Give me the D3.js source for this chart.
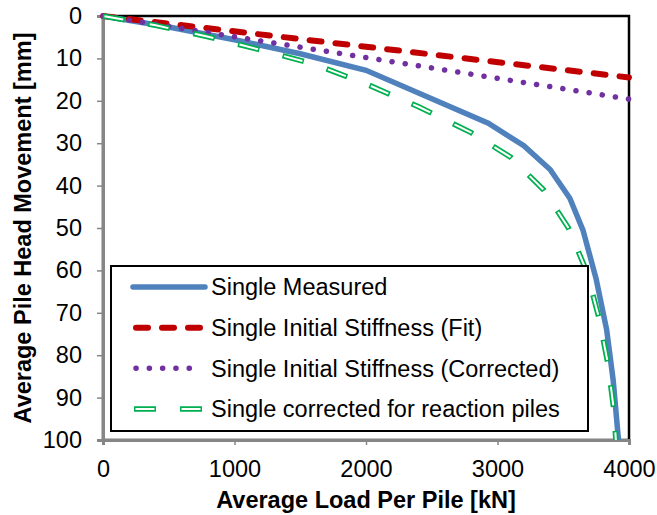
<!DOCTYPE html>
<html>
<head>
<meta charset="utf-8">
<script src="https://cdn.jsdelivr.net/npm/d3@7"></script>
<style>
  body { margin: 0; background: #fff; }
  text { font-family: "Liberation Sans", Arial, sans-serif; fill: #000; }
</style>
</head>
<body>
<div id="container"></div>
<script>
const width = 657,
    height = 515,
    margin = { top: 16, bottom: 75, left: 103, right: 28 },
    fontSize = 23.5;

// DATA (load kN, movement mm)
const measuredLoad = [0, 500, 1000, 1500, 2000, 2930, 3200, 3400, 3550, 3650, 3750, 3830, 3880, 3920];
const measuredMove = [0, 2.6, 5.6, 8.9, 12.8, 25.3, 30.6, 36.2, 43.0, 50.5, 62.0, 74.0, 86.0, 100];

const fitLoad = [0, 4000];
const fitMove = [0, 14.5];

const correctedLoad = [0, 4000];
const correctedMove = [0, 19.6];

const reactionLoad = [0, 400, 800, 1200, 1600, 2000, 2400, 2800, 3100, 3350, 3540, 3680, 3770, 3840, 3885, 3900];
const reactionMove = [0, 2.2, 4.9, 8.0, 11.3, 16.0, 21.4, 27.5, 33.3, 41.0, 50.0, 60.4, 71.0, 82.0, 93.0, 100];

const xTicks = [0, 1000, 2000, 3000, 4000];
const yTicks = [0, 10, 20, 30, 40, 50, 60, 70, 80, 90, 100];

const legendNames = [
    "Single Measured",
    "Single Initial Stiffness (Fit)",
    "Single Initial Stiffness (Corrected)",
    "Single corrected for reaction piles"
];

const zip = (a, b) => a.map((v, i) => [v, b[i]]);

/**SCALES*/
const xScale = d3.scaleLinear()
    .domain([0, 4000])
    .range([margin.left, width - margin.right])

const yScale = d3.scaleLinear()
    .domain([0, 100])
    .range([margin.top, height - margin.bottom])

const svg = d3.select("#container")
    .append("svg")
    .attr("width", width)
    .attr("height", height)

// plot border (top + right black)
svg.append("rect")
    .attr("x", xScale(0))
    .attr("y", yScale(0))
    .attr("width", xScale(4000) - xScale(0))
    .attr("height", yScale(100) - yScale(0))
    .attr("fill", "none")
    .attr("stroke", "#000")
    .attr("stroke-width", 2.5)

// X AXIS
const xAxis = d3.axisBottom(xScale).tickValues(xTicks).tickFormat(d3.format("d")).tickSize(5).tickPadding(15)
const gx = svg.append("g")
    .attr("transform", `translate(0,${yScale(100)})`)
    .call(xAxis)
gx.select(".domain").attr("stroke", "#868686").attr("stroke-width", 3)
gx.selectAll(".tick line").attr("stroke", "#868686").attr("stroke-width", 1.5)
gx.selectAll(".tick text").attr("font-size", fontSize).attr("font-family", "Liberation Sans, Arial, sans-serif")

// Y AXIS
const yAxis = d3.axisLeft(yScale).tickValues(yTicks).tickSize(6).tickPadding(15)
const gy = svg.append("g")
    .attr("transform", `translate(${xScale(0)},0)`)
    .call(yAxis)
gy.select(".domain").attr("stroke", "#868686").attr("stroke-width", 3)
gy.selectAll(".tick line").attr("stroke", "#868686").attr("stroke-width", 1.5)
gy.selectAll(".tick text").attr("font-size", fontSize).attr("font-family", "Liberation Sans, Arial, sans-serif")

// LINES
const line = d3.line().x(d => xScale(d[0])).y(d => yScale(d[1]))

const styles = [
    { color: "#4f81bd", width: 5.5, dash: null },
    { color: "#c00000", width: 6, dash: "12,14" },
    { color: "#7030a0", width: 5.5, dash: "0.1,13.2" }
]

svg.append("path")
    .datum(zip(measuredLoad, measuredMove))
    .attr("d", line)
    .attr("fill", "none")
    .attr("stroke", styles[0].color)
    .attr("stroke-width", styles[0].width)

svg.append("path")
    .datum(zip(fitLoad, fitMove))
    .attr("d", line)
    .attr("fill", "none")
    .attr("stroke", styles[1].color)
    .attr("stroke-width", styles[1].width)
    .attr("stroke-dasharray", styles[1].dash)
    .attr("stroke-linecap", "round")

svg.append("path")
    .datum(zip(correctedLoad, correctedMove))
    .attr("d", line)
    .attr("fill", "none")
    .attr("stroke", styles[2].color)
    .attr("stroke-width", styles[2].width)
    .attr("stroke-dasharray", styles[2].dash)
    .attr("stroke-linecap", "round")

// green double dashes: outer green, inner white
function greenDash(sel) {
    sel.append("path")
        .attr("d", sel.datum().d)
        .attr("fill", "none")
        .attr("stroke", "#00b050")
        .attr("stroke-width", 5.5)
        .attr("stroke-dasharray", "22,24")
    sel.append("path")
        .attr("d", sel.datum().d)
        .attr("fill", "none")
        .attr("stroke", "#fff")
        .attr("stroke-width", 2)
        .attr("stroke-dasharray", "19,27")
        .attr("stroke-dashoffset", -1.5)
}

svg.append("g")
    .datum({ d: line(zip(reactionLoad, reactionMove)) })
    .call(greenDash)

// LEGEND
const legend = svg.append("g")
legend.append("rect")
    .attr("x", 111).attr("y", 266)
    .attr("width", 477).attr("height", 165)
    .attr("fill", "#fff")
    .attr("stroke", "#000")
    .attr("stroke-width", 2)

const rowY = d3.scalePoint().domain(legendNames).range([287, 409])
const sampleX = [[133, 205], [136, 203], [136, 191]]

legendNames.forEach((name, i) => {
    const yy = rowY(name)
    if (i < 3) {
        legend.append("line")
            .attr("x1", sampleX[i][0]).attr("x2", sampleX[i][1])
            .attr("y1", yy).attr("y2", yy)
            .attr("stroke", styles[i].color)
            .attr("stroke-width", styles[i].width)
            .attr("stroke-dasharray", styles[i].dash)
            .attr("stroke-linecap", "round")
    } else {
        legend.append("g")
            .datum({ d: `M134,${yy}L205,${yy}` })
            .call(greenDash)
    }
    legend.append("text")
        .attr("x", 211)
        .attr("y", yy)
        .attr("dy", "0.35em")
        .attr("font-size", fontSize)
        .text(name)
})

// AXIS TITLES
svg.append("text")
    .attr("x", xScale(2000))
    .attr("y", 508)
    .attr("text-anchor", "middle")
    .attr("font-size", fontSize)
    .attr("font-weight", "bold")
    .text("Average Load Per Pile [kN]")

svg.append("text")
    .attr("transform", `translate(31,${yScale(50)}) rotate(-90)`)
    .attr("text-anchor", "middle")
    .attr("font-size", fontSize)
    .attr("font-weight", "bold")
    .text("Average Pile Head Movement [mm]")
</script>
</body>
</html>
